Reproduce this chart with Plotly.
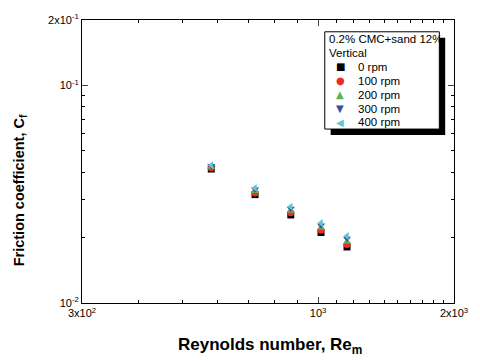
import plotly.graph_objects as go

re_m = [580, 725, 870, 1015, 1159]
cf_0 = [0.0413, 0.0315, 0.0254, 0.0211, 0.0181]
cf_100 = [0.0418, 0.0320, 0.0260, 0.0216, 0.0186]
cf_200 = [0.0422, 0.0326, 0.0265, 0.0221, 0.0191]
cf_300 = [0.0427, 0.0333, 0.0272, 0.0228, 0.0198]
cf_400 = [0.0430, 0.0338, 0.0277, 0.0233, 0.0203]
labels = ["0 rpm", "100 rpm", "200 rpm", "300 rpm", "400 rpm"]
colors = ["#000000", "#ee2a2a", "#5cb547", "#3a4fa0", "#5fc6d6"]
symbols = ["square", "circle", "triangle-up", "triangle-down", "triangle-left"]
glyphs = ["■", "●", "▲", "▼", "◀"]
legend_title = ["0.2% CMC+sand 12%", "Vertical"]

x_ticks = [300, 1000, 2000]
x_ticktext = ["3x10<sup>2</sup>", "10<sup>3</sup>", "2x10<sup>3</sup>"]
x_minor = [400, 500, 600, 700, 800, 900, 1100, 1200, 1300, 1400, 1500, 1600, 1700, 1800, 1900]
y_ticks = [0.01, 0.1, 0.2]
y_ticktext = ["10<sup>-2</sup>", "10<sup>-1</sup>", "2x10<sup>-1</sup>"]
y_minor = [0.02, 0.03, 0.04, 0.05, 0.06, 0.07, 0.08, 0.09]

W, H = 480, 361
L, R, T, B = 82, 18, 15, 58
PW, PH = W - L - R, H - T - B

def px(x):
    return (x - L) / PW

def py(y):
    return (H - B - y) / PH

font = "Arial, Liberation Sans, sans-serif"

fig = go.Figure()
for vals, lab, col, sym in zip([cf_0, cf_100, cf_200, cf_300, cf_400], labels, colors, symbols):
    fig.add_trace(go.Scatter(x=re_m, y=vals, mode="markers", name=lab, showlegend=False,
                             marker=dict(color=col, symbol=sym, size=7, line=dict(width=0))))

shapes = [
    dict(type="rect", xref="paper", yref="paper", x0=px(336), x1=px(453), y0=py(33), y1=py(132),
         fillcolor="black", line=dict(width=0), layer="above"),
    dict(type="rect", xref="paper", yref="paper", x0=px(330), x1=px(447), y0=py(27), y1=py(126),
         fillcolor="white", line=dict(color="black", width=1), layer="above"),
]
annotations = []
for i, t in enumerate(legend_title):
    annotations.append(dict(text=t, xref="paper", yref="paper", x=px(332), y=py(34 + 14.2 * i),
                            xanchor="left", yanchor="middle", showarrow=False,
                            font=dict(size=11.5, family=font, color="black")))
for i, (lab, col, g) in enumerate(zip(labels, colors, glyphs)):
    yy = py(62.5 + 14.2 * i)
    annotations.append(dict(text=g, xref="paper", yref="paper", x=px(345.7), y=yy,
                            xanchor="center", yanchor="middle", showarrow=False,
                            font=dict(size=10, family="DejaVu Sans", color=col)))
    annotations.append(dict(text=lab, xref="paper", yref="paper", x=px(361.5), y=yy,
                            xanchor="left", yanchor="middle", showarrow=False,
                            font=dict(size=11.5, family=font, color="black")))
annotations.append(dict(text="<b>Reynolds number, Re<sub>m</sub></b>", xref="paper", yref="paper",
                        x=px(274), y=py(347), xanchor="center", yanchor="middle", showarrow=False,
                        font=dict(size=17, family=font, color="black")))
annotations.append(dict(text="<b>Friction coefficient, C<sub>f</sub></b>", xref="paper", yref="paper",
                        x=px(19), y=py(188), xanchor="center", yanchor="middle", showarrow=False,
                        textangle=-90, font=dict(size=14.5, family=font, color="black")))

fig.update_layout(
    width=W, height=H,
    margin=dict(l=L, r=R, t=T, b=B),
    paper_bgcolor="white", plot_bgcolor="white",
    font=dict(family=font, size=11, color="black"),
    showlegend=False,
    shapes=shapes, annotations=annotations,
    xaxis=dict(type="log", range=[2.4771, 3.30103], showgrid=False, zeroline=False,
               showline=True, linecolor="black", linewidth=1, mirror="ticks",
               ticks="inside", ticklen=6, tickvals=x_ticks, ticktext=x_ticktext,
               tickfont=dict(size=11),
               minor=dict(ticks="inside", ticklen=3, tickvals=x_minor, tickcolor="black")),
    yaxis=dict(type="log", range=[-2, -0.69897], showgrid=False, zeroline=False,
               showline=True, linecolor="black", linewidth=1, mirror="ticks",
               ticks="inside", ticklen=6, tickvals=y_ticks, ticktext=y_ticktext,
               tickfont=dict(size=11),
               minor=dict(ticks="inside", ticklen=3, tickvals=y_minor, tickcolor="black")),
)
fig.write_html("out.html", config={"displayModeBar": False},
               post_script="document.body.style.margin='0';document.body.style.overflow='hidden';document.documentElement.style.overflow='hidden';")
